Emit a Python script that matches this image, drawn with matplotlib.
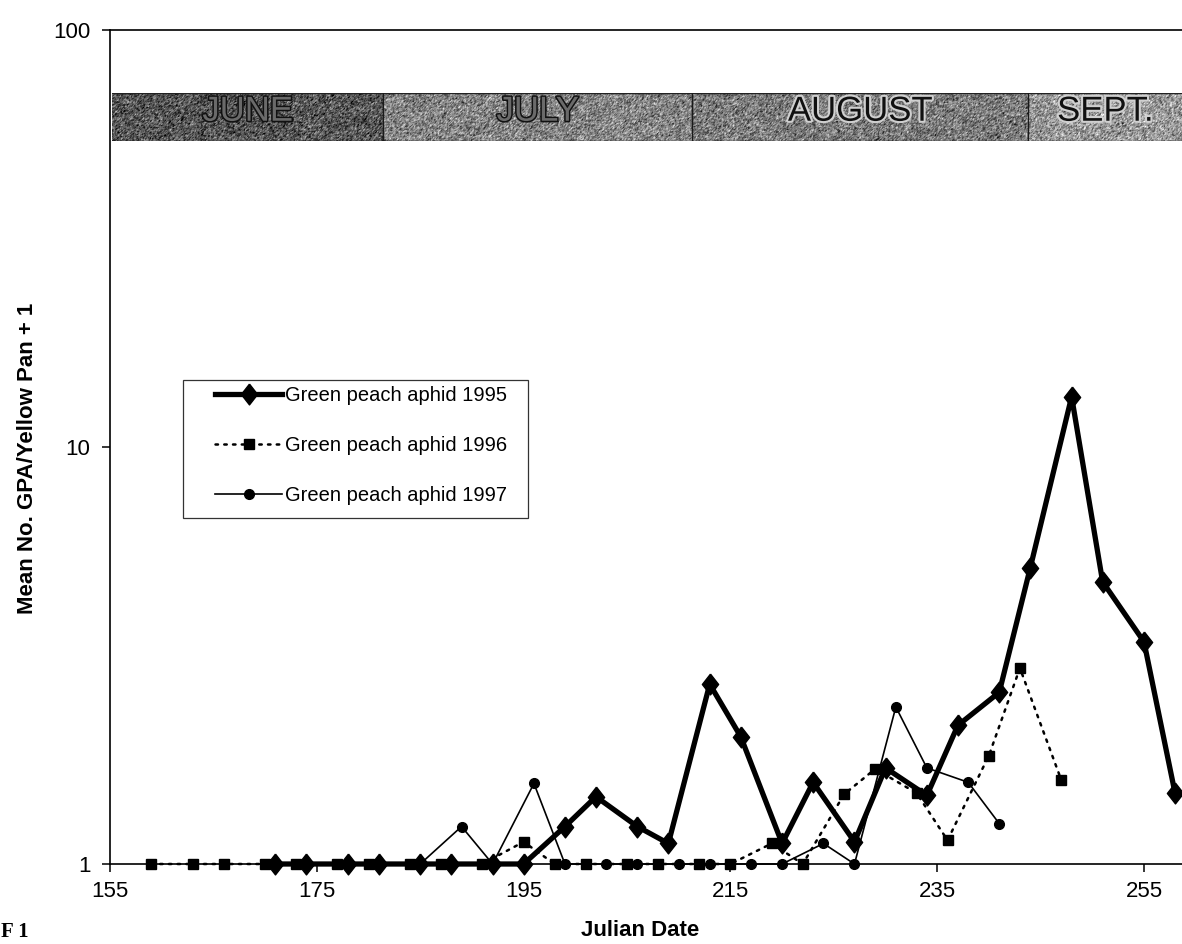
import numpy as np
import matplotlib
matplotlib.use("Agg")
import matplotlib.pyplot as plt
import matplotlib.patheffects as pe
from matplotlib.patches import Rectangle
from matplotlib.ticker import NullLocator

# Julian dates and mean catch (+1) of green peach aphid per yellow pan
days_1995 = [171, 174, 178, 181, 185, 188, 192, 195, 199, 202, 206, 209, 213,
             216, 220, 223, 227, 230, 234, 237, 241, 244, 248, 251, 255, 258]
gpa_1995 = [1, 1, 1, 1, 1, 1, 1, 1, 1.23, 1.45, 1.23, 1.12, 2.70,
            2.02, 1.12, 1.57, 1.13, 1.70, 1.46, 2.15, 2.58, 5.13, 13.2, 4.75, 3.41, 1.48]

days_1996 = [159, 163, 166, 170, 173, 177, 180, 184, 187, 191, 195, 198, 201,
             205, 208, 212, 215, 219, 222, 226, 229, 233, 236, 240, 243, 247]
gpa_1996 = [1, 1, 1, 1, 1, 1, 1, 1, 1, 1, 1.13, 1, 1,
            1, 1, 1, 1, 1.12, 1, 1.47, 1.69, 1.48, 1.14, 1.82, 2.95, 1.59]

days_1997 = [181, 185, 189, 192, 196, 199, 203, 206, 210, 213, 217, 220, 224,
             227, 231, 234, 238, 241]
gpa_1997 = [1, 1, 1.23, 1, 1.56, 1, 1, 1, 1, 1, 1, 1, 1.12,
            1, 2.38, 1.70, 1.57, 1.25]

series_labels = ["Green peach aphid 1995", "Green peach aphid 1996", "Green peach aphid 1997"]

# month band across the top of the plot
month_names = ["JUNE", "JULY", "AUGUST", "SEPT."]
month_edges = [155, 181.3, 211.2, 243.8, 258.7]

x_ticks = [155, 175, 195, 215, 235, 255]
y_ticks = [1, 10, 100]

W, H = 1182, 944
plt.rcParams['font.family'] = ['Liberation Sans', 'DejaVu Sans']


def draw_band(fig, xlim):
    # separate axes for the textured month strip
    band = fig.add_axes([112 / W, (H - 141) / H, (W - 112) / W, 48 / H])
    band.set_xlim(xlim)
    band.set_ylim(0, 1)
    band.axis("off")

    shades = [0.34, 0.52, 0.48, 0.60]
    rng = np.random.default_rng(7)
    cols = 1070
    xs = np.linspace(month_edges[0], xlim[1], cols)
    base = np.zeros((48, cols))
    for i in range(len(month_names)):
        mask = (xs >= month_edges[i]) & (xs < month_edges[i + 1])
        base[:, mask] = shades[i]
    noise = rng.normal(0, 0.13, base.shape)
    noise = (noise + np.roll(noise, 1, 0) + np.roll(noise, 1, 1)) / 2.0
    tex = np.clip(base + noise, 0, 1)
    band.imshow(tex, cmap="gray", vmin=0, vmax=1, aspect="auto",
                extent=[month_edges[0], xlim[1], 0, 1], interpolation="bilinear")

    band.plot([month_edges[0], xlim[1]], [0.995, 0.995], color="#222222", lw=1.0)
    band.plot([month_edges[0], xlim[1]], [0.005, 0.005], color="#222222", lw=1.0)
    for e in month_edges[1:-1]:
        band.plot([e, e], [0, 1], color="#1a1a1a", lw=1.0)

    for i, name in enumerate(month_names):
        mid = (month_edges[i] + min(month_edges[i + 1], xlim[1])) / 2
        if i < 2:
            fx = [pe.Stroke(linewidth=2.2, foreground="#111111"), pe.Normal()]
            col = "#6a6a6a"
        else:
            fx = [pe.Stroke(linewidth=3, foreground="#d0d0d0"), pe.Normal()]
            col = "#111111"
        band.text(mid, 0.62, name, ha="center", va="center", fontsize=25,
                  color=col, path_effects=fx)


def main():
    fig = plt.figure(figsize=(W / 100, H / 100), dpi=100)
    ax = fig.add_axes([110 / W, 80 / H, (W - 110) / W, 834 / H])
    xlim = (155, 155 + 1072 / 10.34)

    diamond = [(0, 1), (0.78, 0), (0, -1), (-0.78, 0), (0, 1)]
    ax.plot(days_1995, gpa_1995, color="black", lw=3.8, marker=diamond, ms=15,
            label=series_labels[0], zorder=5, clip_on=False)
    ax.plot(days_1996, gpa_1996, color="black", lw=1.8, ls=(0, (1, 2.5)),
            dash_capstyle="round", marker="s", ms=7, label=series_labels[1],
            zorder=4, clip_on=False)
    ax.plot(days_1997, gpa_1997, color="black", lw=1.2, marker="o", ms=7,
            label=series_labels[2], zorder=3, clip_on=False)

    ax.set_yscale("log")
    ax.set_ylim(1, 100)
    ax.set_xlim(xlim)
    ax.set_yticks(y_ticks)
    ax.set_yticklabels([str(t) for t in y_ticks])
    ax.yaxis.set_minor_locator(NullLocator())
    ax.set_xticks(x_ticks)
    ax.set_xticklabels([str(t) for t in x_ticks])

    ax.tick_params(axis="x", direction="out", length=6, width=1.1, labelsize=16, pad=6)
    ax.tick_params(axis="y", direction="out", length=6, width=1.1, labelsize=16, pad=8)
    for s in ["left", "bottom", "top"]:
        ax.spines[s].set_linewidth(1.2)
    ax.spines["right"].set_visible(False)

    # legend box drawn on its own, entries placed inside it
    box = Rectangle(((183 - 110) / 1072, (864 - 518) / 834), 345 / 1072, 138 / 834,
                    transform=ax.transAxes, fill=True, facecolor="white",
                    edgecolor="#333333", lw=0.9, zorder=6)
    ax.add_patch(box)
    leg = ax.legend(loc="upper left", bbox_to_anchor=((215 - 110) / 1072, (864 - 386) / 834),
                    borderaxespad=0, borderpad=0, fontsize=14.5, handlelength=3.33,
                    handletextpad=0.15, labelspacing=1.55, frameon=False)
    leg.set_zorder(7)

    draw_band(fig, xlim)

    fig.text(28 / W, (H - 458) / H, "Mean No. GPA/Yellow Pan + 1", rotation=90,
             ha="center", va="center", fontsize=16, fontweight="bold")
    fig.text(640 / W, (H - 930) / H, "Julian Date", ha="center", va="center",
             fontsize=16, fontweight="bold")
    fig.text(1 / W, 2 / H, "F 1", ha="left", va="bottom", fontsize=15,
             fontweight="bold", family=["Liberation Serif", "DejaVu Serif"])

    fig.savefig("out.png", dpi=100)


if __name__ == "__main__":
    main()
